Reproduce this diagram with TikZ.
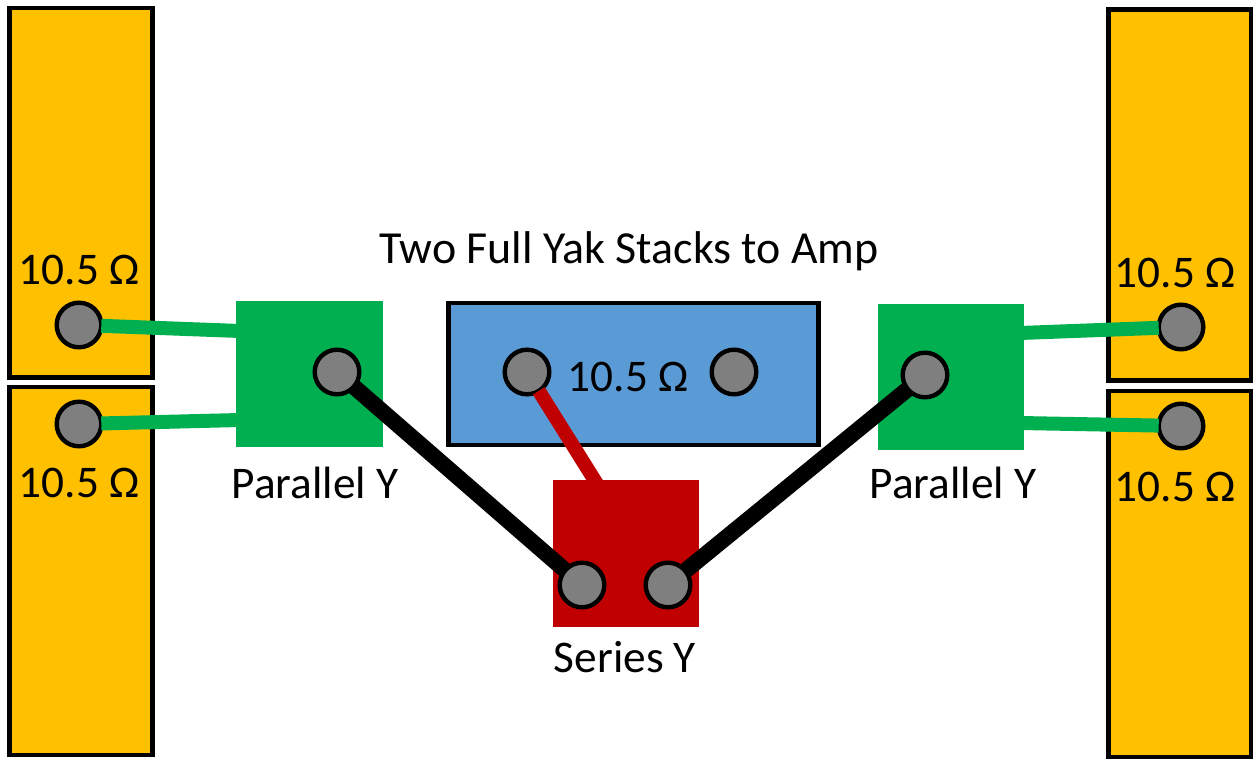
\documentclass[tikz,border=0pt]{standalone}
\usepackage{fontspec}
\setmainfont{Carlito}
\definecolor{cabinet}{HTML}{FFC000}
\definecolor{ygreen}{HTML}{00B050}
\definecolor{yred}{HTML}{C00000}
\definecolor{ampblue}{HTML}{5B9BD5}
\definecolor{jack}{HTML}{7F7F7F}
\tikzset{
  pxbox/.style={draw=none,minimum width=0pt,minimum height=0pt,inner sep=0pt,outer sep=0pt,rectangle},
  cabbox/.style={pxbox,fill=cabinet,draw=black,line width=4.6pt,minimum width=142.5pt},
  jackpt/.style={circle,draw=black,fill=jack,line width=4.4pt,minimum size=44.6pt,inner sep=0pt,outer sep=0pt},
  lbl/.style={anchor=base,inner sep=0pt,outer sep=0pt,font=\fontsize{45.3pt}{52pt}\selectfont},
  gwire/.style={ygreen,line width=14pt},
  rwire/.style={yred,line width=14pt},
  kwire/.style={black,line width=16pt}
}
\begin{document}
\begin{tikzpicture}[x=1pt,y=-1pt]
\useasboundingbox (0,0) rectangle (1253,759);
% cabinets
\node[cabbox,minimum height=369.5pt] (cabLT) at (81,192.75) {};
\node[cabbox,minimum height=368pt] (cabLB) at (81,571) {};
\node[cabbox,minimum height=371pt] (cabRT) at (1180,195) {};
\node[cabbox,minimum height=366pt] (cabRB) at (1180,574) {};
% Y boxes and amp
\node[pxbox,fill=ygreen,minimum width=147pt,minimum height=146pt] (yL) at (309.5,374) {};
\node[pxbox,fill=ygreen,minimum width=146pt,minimum height=146pt] (yR) at (951,377) {};
\node[pxbox,fill=yred,minimum width=146pt,minimum height=147pt] (yS) at (626,553.5) {};
\node[pxbox,fill=ampblue,draw=black,line width=4.4pt,minimum width=370pt,minimum height=142pt] (amp) at (633.5,374) {};
% free ends of wires
\coordinate (eL1) at (240,331);
\coordinate (eL2) at (240,420);
\coordinate (eR1) at (1020,333);
\coordinate (eR2) at (1020,423);
\coordinate (eS) at (597,484);
% jacks
\node[jackpt] (jL1) at (79,325) {};
\node[jackpt] (jL2) at (79,424) {};
\node[jackpt] (jR1) at (1181,327) {};
\node[jackpt] (jR2) at (1181,426) {};
\node[jackpt] (jYL) at (337,372) {};
\node[jackpt] (jYR) at (925,375) {};
\node[jackpt] (jA1) at (527,372) {};
\node[jackpt] (jA2) at (734,372) {};
\node[jackpt] (jS1) at (582,585) {};
\node[jackpt] (jS2) at (668,585) {};
% wires
\draw[gwire] (jL1) -- (eL1);
\draw[gwire] (jL2) -- (eL2);
\draw[gwire] (jR1) -- (eR1);
\draw[gwire] (jR2) -- (eR2);
\draw[rwire] (jA1) -- (eS);
\draw[kwire] (jYL) -- (jS1);
\draw[kwire] (jYR) -- (jS2);
% labels
\node[lbl,font=\fontsize{45.9pt}{52pt}\selectfont] (tTitle) at (629,264) {Two Full Yak Stacks to Amp};
\node[lbl] (tL1) at (79,285) {10.5 Ω};
\node[lbl] (tL2) at (79,497) {10.5 Ω};
\node[lbl] (tR1) at (1175,288) {10.5 Ω};
\node[lbl] (tR2) at (1175,501) {10.5 Ω};
\node[lbl] (tA) at (628,391) {10.5 Ω};
\node[lbl] (tYL) at (315,498) {Parallel Y};
\node[lbl] (tYR) at (953,498) {Parallel Y};
\node[lbl] (tS) at (625,672) {Series Y};
\end{tikzpicture}
\end{document}
